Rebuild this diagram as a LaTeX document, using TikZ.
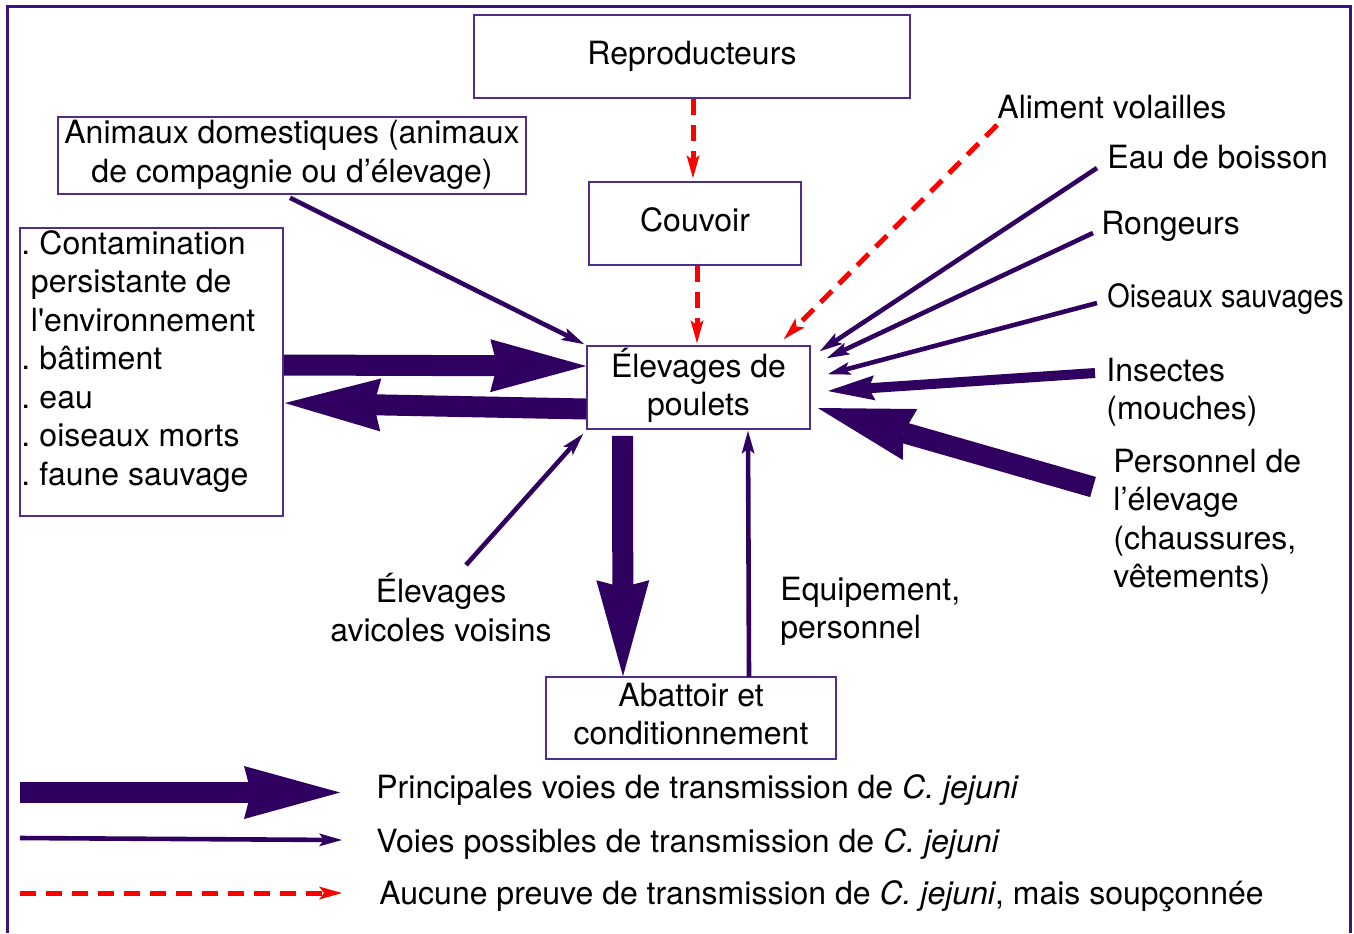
\documentclass[tikz,border=0pt]{standalone}
\usepackage{fontspec}
\setmainfont{TeX Gyre Heros}[Ligatures=TeXOff]
\usepackage{graphicx}
\usetikzlibrary{arrows.meta,calc}
\definecolor{pur}{RGB}{48,0,96}
\definecolor{boxc}{RGB}{80,45,140}
\definecolor{framec}{RGB}{60,20,125}
\definecolor{redc}{RGB}{255,0,0}
\newcommand{\dgfont}{\fontsize{16pt}{19.25pt}\selectfont}
\begin{document}
\begin{tikzpicture}[x=0.5pt,y=-0.5pt,
  every node/.style={font=\dgfont, inner sep=0pt, text=black},
  box/.style={draw=boxc, line width=0.8pt, fill=white, align=center},
  lbl/.style={anchor=base west},
  mlbl/.style={anchor=north west, align=left},
  thinarrow/.style={draw=pur, line width=2.3pt, -{Stealth[length=11.5pt,width=6.5pt,inset=2.5pt,line width=0pt]}},
  medarrow/.style={draw=pur, line width=5pt, -{Stealth[length=23.5pt,width=12.5pt,inset=3pt,line width=0pt]}},
  bigarrow/.style={draw=pur, line width=10.5pt, -{Stealth[length=48pt,width=26.5pt,inset=3.5pt,line width=0pt]}},
  redarrow/.style={draw=redc, line width=2.5pt, dash pattern=on 8pt off 5pt, -{Stealth[length=11.5pt,width=6.5pt,inset=2.5pt,line width=0pt]}},
]
\useasboundingbox (0,0) rectangle (1354,933);
\draw[framec, line width=1.5pt] (7.5,933) -- (7.5,6.5) -- (1350,6.5) -- (1350,933);

% boxes
\node[box, minimum width=218pt, minimum height=41.5pt] (rep) at (692,56.5) {\strut Reproducteurs};
\node[box, minimum width=106pt, minimum height=41.5pt] (couv) at (695,223.5) {\strut Couvoir};
\node[box, minimum width=111.5pt, minimum height=41.5pt] (elev) at (698.5,387.5) {\strut Élevages de\\\strut poulets};
\node[box, minimum width=234pt, minimum height=38.5pt] (anim) at (292,155.5) {\strut Animaux domestiques (animaux\\\strut de compagnie ou d’élevage)};
\node[box, minimum width=131.5pt, minimum height=144pt] (env) at (151.5,372) {};
\node[mlbl] (envtxt) at (21,227) {\strut.\hspace{4.6pt}Contamination\\\hspace*{4.8pt}persistante de\\\hspace*{4.8pt}l'environnement\\\strut.\hspace{4.6pt}bâtiment\\\strut.\hspace{4.6pt}eau\\\strut.\hspace{4.6pt}oiseaux morts\\\strut.\hspace{4.6pt}faune sauvage};
\node[box, minimum width=145pt, minimum height=41pt] (abat) at (691,718) {\strut Abattoir et\\\strut conditionnement};

% labels
\node[lbl] (alim) at (997,118) {Aliment volailles};
\node[lbl] (eau) at (1107,168) {Eau de boisson};
\node[lbl] (rong) at (1101,234) {Rongeurs};
\node[lbl] (ois) at (1107,307) {\scalebox{0.9}[1]{Oiseaux sauvages}};
\node[mlbl] (ins) at (1106,354) {\strut Insectes\\\strut (mouches)};
\node[mlbl] (pers) at (1113,445) {\strut Personnel de\\\strut l’élevage\\\strut (chaussures,\\\strut vêtements)};
\node[anchor=north, align=center] (vois) at (441,573) {\strut Élevages\\\strut avicoles voisins};
\node[mlbl] (equip) at (780,573) {\strut Equipement,\\\strut personnel};

% legend texts
\node[lbl] (leg1) at (376,798) {Principales voies de transmission de \textit{C. jejuni}};
\node[lbl] (leg2) at (376,852) {Voies possibles de transmission de \textit{C. jejuni}};
\node[lbl] (leg3) at (379,904) {Aucune preuve de transmission de \textit{C. jejuni}, mais soupçonnée};

% free ends
\coordinate (alimS) at (997,125);
\coordinate (eauS) at (1097,168);
\coordinate (rongS) at (1093,233);
\coordinate (oisS) at (1097,303);
\coordinate (insS) at (1095,373);
\coordinate (persS) at (1093,487);
\coordinate (voisS) at (466,565);
\coordinate (L1a) at (20,792.5);
\coordinate (L1b) at (340,792.5);
\coordinate (L2a) at (20,838);
\coordinate (L2b) at (342,840);
\coordinate (L3a) at (20,893);
\coordinate (L3b) at (342,893);

% connectors
\draw[redarrow] ($(rep.south)+(1,0)$) -- ($(couv.north)+(-2,-3)$);
\draw[redarrow] ($(couv.south)+(2,0)$) -- ($(elev.north)+(-1.5,-2)$);
\draw[redarrow] (alimS) -- ($(elev.north east)+(-27,-6)$);
\draw[thinarrow] ($(anim.south)+(-2,3)$) -- ($(elev.north west)+(-2,-1)$);
\draw[thinarrow] (eauS) -- ($(elev.north east)+(9,6)$);
\draw[thinarrow] (rongS) -- ($(elev.north east)+(16,13)$);
\draw[thinarrow] (oisS) -- ($(elev.north east)+(17,29)$);
\draw[medarrow] (insS) -- ($(elev.east)+(17,3.5)$);
\draw[bigarrow] (persS) -- ($(elev.east)+(7,20.5)$);
\draw[bigarrow] ($(env.east)+(0,-7)$) -- ($(elev.west)+(0,-21.5)$);
\draw[bigarrow] ($(elev.west)+(0,21.5)$) -- ($(env.east)+(1,31)$);
\draw[bigarrow] ($(elev.south)+(-76,6)$) -- ($(abat.north)+(-68,0)$);
\draw[thinarrow] ($(abat.north)+(58,1)$) -- ($(elev.south)+(49.5,1)$);
\draw[thinarrow] (voisS) -- ($(elev.south west)+(-3,4)$);

% legend arrows
\draw[bigarrow] (L1a) -- (L1b);
\draw[thinarrow] (L2a) -- (L2b);
\draw[redarrow] (L3a) -- (L3b);
\end{tikzpicture}
\end{document}
